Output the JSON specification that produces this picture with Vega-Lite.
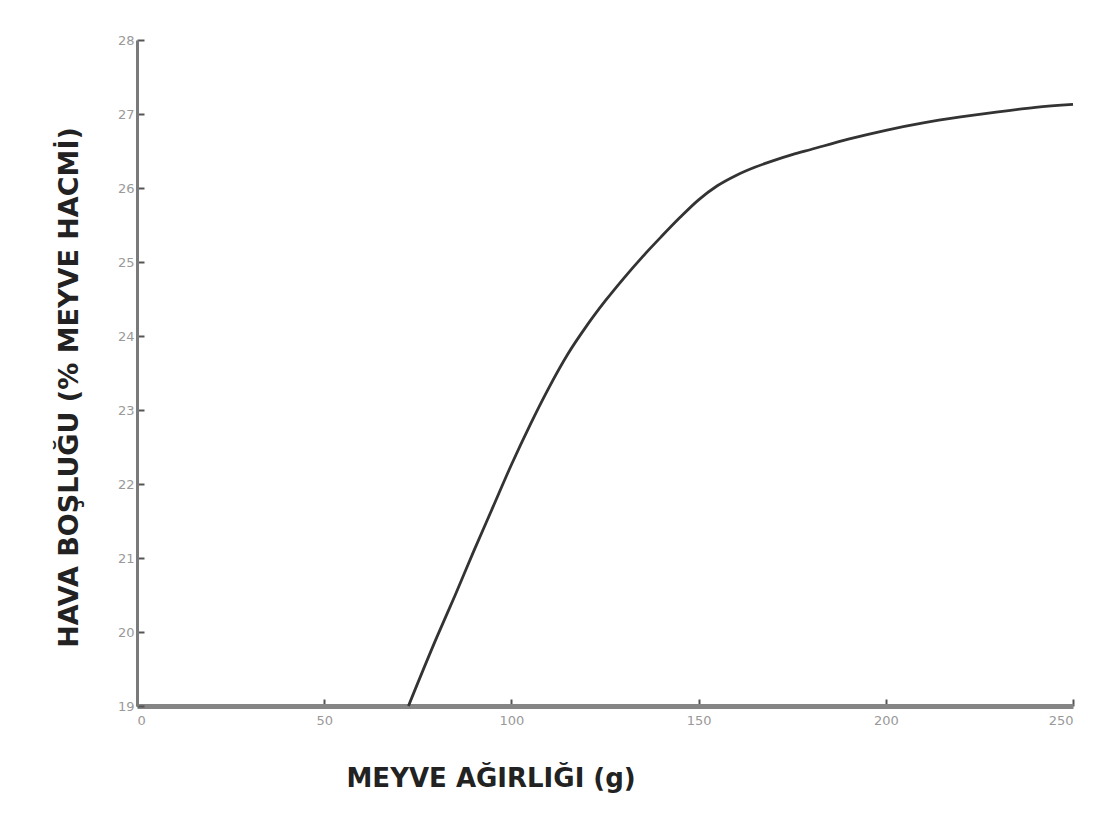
{
  "$schema": "https://vega.github.io/schema/vega-lite/v6.json",
  "width": 936,
  "height": 666,
  "autosize": {"type": "none"},
  "padding": {"left": 137, "top": 40, "right": 34, "bottom": 113},
  "background": "white",
  "config": {
    "view": {"stroke": null},
    "font": "DejaVu Sans"
  },
  "data": {
    "values": [
      {"agirlik": 72.5, "bosluk": 19.0},
      {"agirlik": 80, "bosluk": 19.92},
      {"agirlik": 85, "bosluk": 20.5},
      {"agirlik": 90, "bosluk": 21.1},
      {"agirlik": 95, "bosluk": 21.68},
      {"agirlik": 100, "bosluk": 22.26},
      {"agirlik": 105, "bosluk": 22.8},
      {"agirlik": 110, "bosluk": 23.3},
      {"agirlik": 115, "bosluk": 23.75},
      {"agirlik": 120, "bosluk": 24.13},
      {"agirlik": 125, "bosluk": 24.47},
      {"agirlik": 130, "bosluk": 24.78},
      {"agirlik": 135, "bosluk": 25.07},
      {"agirlik": 140, "bosluk": 25.34},
      {"agirlik": 145, "bosluk": 25.6},
      {"agirlik": 150, "bosluk": 25.84},
      {"agirlik": 155, "bosluk": 26.03},
      {"agirlik": 160, "bosluk": 26.17},
      {"agirlik": 165, "bosluk": 26.28},
      {"agirlik": 170, "bosluk": 26.37},
      {"agirlik": 175, "bosluk": 26.45},
      {"agirlik": 180, "bosluk": 26.52},
      {"agirlik": 190, "bosluk": 26.66},
      {"agirlik": 200, "bosluk": 26.78},
      {"agirlik": 210, "bosluk": 26.88},
      {"agirlik": 220, "bosluk": 26.96},
      {"agirlik": 230, "bosluk": 27.03},
      {"agirlik": 240, "bosluk": 27.09},
      {"agirlik": 250, "bosluk": 27.13}
    ]
  },
  "mark": {"type": "line", "color": "#333333", "strokeWidth": 2.8, "interpolate": "monotone"},
  "encoding": {
    "x": {
      "field": "agirlik",
      "type": "quantitative",
      "scale": {"domain": [0, 250], "nice": false},
      "axis": {
        "title": "MEYVE AĞIRLIĞI (g)",
        "values": [0, 50, 100, 150, 200, 250],
        "grid": false,
        "domainColor": "#858585",
        "domainWidth": 5,
        "tickColor": "#555555",
        "tickSize": -7,
        "tickWidth": 2,
        "labelColor": "#999999",
        "labelFontSize": 13,
        "labelPadding": 15,
        "titleFont": "DejaVu Sans",
        "titleFontSize": 26,
        "titleFontWeight": "bold",
        "titleColor": "#222222",
        "titleAnchor": "start",
        "titleAlign": "left",
        "titleX": 209,
        "titleY": 59
      }
    },
    "y": {
      "field": "bosluk",
      "type": "quantitative",
      "scale": {"domain": [19, 28], "nice": false, "zero": false},
      "axis": {
        "title": "HAVA BOŞLUĞU (% MEYVE HACMİ)",
        "values": [19, 20, 21, 22, 23, 24, 25, 26, 27, 28],
        "grid": false,
        "domainColor": "#7a7a7a",
        "domainWidth": 3,
        "tickColor": "#555555",
        "tickSize": -7,
        "tickWidth": 2,
        "labelColor": "#999999",
        "labelFontSize": 13,
        "labelPadding": 10,
        "titleFont": "DejaVu Sans",
        "titleFontSize": 27,
        "titleFontWeight": "bold",
        "titleColor": "#222222",
        "titleAngle": -90,
        "titleAlign": "center",
        "titleBaseline": "alphabetic",
        "titleX": -60,
        "titleY": 347
      }
    }
  }
}
